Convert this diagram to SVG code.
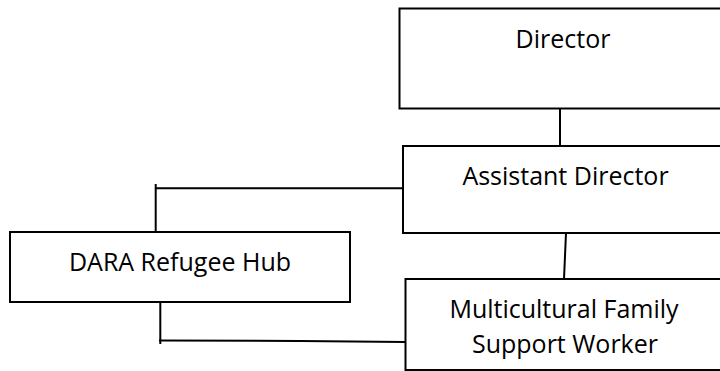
<svg xmlns="http://www.w3.org/2000/svg" width="720" height="371" viewBox="0 0 720 371">
<style>
.box{fill:#fff;stroke:#000;stroke-width:2}
.lbl{font-family:"Open Sans","Liberation Sans",sans-serif;font-size:25px;fill:#000;text-anchor:middle}
.con{fill:none;stroke:#000;stroke-width:2}
</style>
<rect width="720" height="371" fill="#fff"/>
<g id="connectors">
<line class="con" x1="560" y1="107" x2="560" y2="146"/>
<line class="con" x1="566" y1="233" x2="564" y2="279"/>
<polyline class="con" points="403,188.3 155.7,188.3"/>
<line class="con" x1="155.7" y1="184" x2="155.7" y2="232"/>
<line class="con" x1="160.3" y1="302" x2="160.3" y2="344"/>
<polyline class="con" points="159,340.5 300,341 405,342"/>
</g>
<g id="director">
<rect class="box" x="399.5" y="8.5" width="330" height="100"/>
<text class="lbl" x="563" y="47.7">Director</text>
</g>
<g id="assistant-director">
<rect class="box" x="403" y="146" width="330" height="87"/>
<text class="lbl" x="565.5" y="185">Assistant Director</text>
</g>
<g id="dara">
<rect class="box" x="10" y="232" width="340" height="70"/>
<text class="lbl" x="180" y="271">DARA Refugee Hub</text>
</g>
<g id="mfsw">
<rect class="box" x="405.5" y="279" width="330" height="91"/>
<text class="lbl" x="564" y="318">Multicultural Family</text>
<text class="lbl" x="565" y="353">Support Worker</text>
</g>
</svg>
